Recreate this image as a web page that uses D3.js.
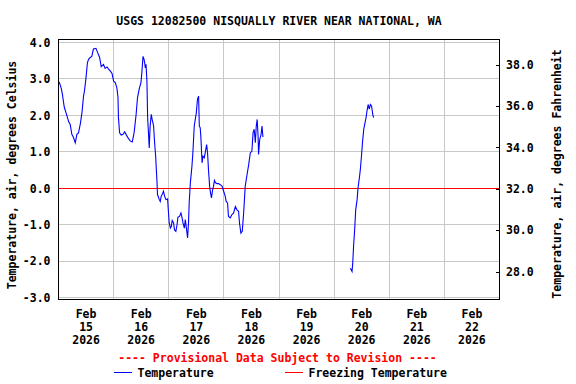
<!DOCTYPE html>
<html><head><meta charset="utf-8">
<script src="https://cdn.jsdelivr.net/npm/d3@7"></script>
<style>
body{margin:0;background:#fff}
svg text{font-family:"DejaVu Sans Mono","Liberation Mono",monospace;font-weight:bold;font-size:11.5px;fill:#000}
</style>
</head><body>
<svg id="chart" width="576" height="384"></svg>
<script>
// ---- data ----
const chartTitle = "USGS 12082500 NISQUALLY RIVER NEAR NATIONAL, WA";
const leftAxisTitle = "Temperature, air, degrees Celsius";
const rightAxisTitle = "Temperature, air, degrees Fahrenheit";
const provisionalNote = "---- Provisional Data Subject to Revision ----";
const legendLabels = ["Temperature", "Freezing Temperature"];
const seriesStart = [2026, 1, 15]; // Feb 15 2026 00:00, offsets in hours below

const seg1Hours = [0.3,1.2,1.7,2.5,3.4,4.4,5.1,5.8,6.5,7.3,8.0,8.7,9.5,10.2,10.9,11.3,11.9,12.6,13.1,13.8,14.5,15.2,16.3,17.0,17.9,18.6,19.6,20.3,21.1,21.8,22.5,23.3,24.0,24.7,25.4,25.9,26.1,26.6,27.3,28.1,28.8,29.4,30.2,31.2,32.1,32.7,33.0,33.8,34.4,35.2,35.9,36.3,36.8,37.2,37.5,37.8,38.1,38.5,38.8,39.2,39.5,39.9,40.4,40.8,41.1,41.4,41.8,42.3,42.6,42.9,43.1,43.9,44.3,44.7,45.3,45.7,46.2,46.8,47.5,47.8,48.2,48.7,49.1,49.5,50.1,50.5,51.1,51.6,52.0,52.7,53.3,53.8,54.2,54.8,55.2,55.6,56.2,56.6,56.9,57.4,58.1,58.5,59.1,60.0,60.5,61.0,61.3,61.7,62.0,62.5,62.9,63.5,64.0,64.5,64.9,65.3,65.8,66.2,66.6,67.1,67.5,67.9,68.4,69.0,69.7,70.4,71.2,71.9,72.6,73.0,73.6,74.0,74.8,75.5,76.2,77.0,77.7,78.4,78.8,79.4,80.0,80.6,81.3,82.1,82.8,83.5,84.2,84.7,85.2,85.7,86.1,86.5,86.9,87.1,87.6,88.2,88.6,89.0];
const seg1TempC = [2.92,2.74,2.58,2.23,2.05,1.83,1.75,1.48,1.40,1.25,1.48,1.52,1.77,2.07,2.53,2.67,2.99,3.45,3.54,3.59,3.62,3.82,3.84,3.73,3.59,3.34,3.40,3.29,3.33,3.27,3.22,3.15,2.94,2.90,2.76,2.49,1.94,1.52,1.46,1.48,1.55,1.48,1.39,1.30,1.27,1.45,1.57,2.03,2.49,2.74,2.90,3.18,3.62,3.55,3.45,3.30,3.40,2.94,1.95,1.48,1.11,1.71,2.03,1.88,1.80,1.71,1.29,0.88,0.51,0.15,-0.17,-0.31,-0.36,-0.22,-0.15,-0.08,-0.22,-0.31,-0.29,-0.59,-0.95,-1.09,-1.05,-0.88,-0.95,-1.14,-1.18,-1.00,-0.79,-0.77,-0.68,-0.81,-0.95,-1.09,-0.86,-1.05,-1.36,-0.95,-0.40,0.15,0.61,0.97,1.71,2.07,2.44,2.53,1.71,1.66,1.39,0.70,0.88,0.84,1.02,1.20,0.97,0.51,0.06,-0.13,-0.26,-0.04,0.06,0.22,0.15,0.13,0.13,0.10,0.06,-0.08,-0.22,-0.36,-0.40,-0.77,-0.81,-0.72,-0.68,-0.50,-0.59,-0.63,-0.95,-1.23,-1.18,-0.68,0.06,0.38,0.65,0.97,1.02,1.52,1.62,1.25,1.71,1.89,1.43,0.93,1.34,1.48,1.71,1.41];
const seg2Hours = [127.1,127.8,128.1,128.5,128.9,129.4,130.0,130.4,131.0,131.4,131.9,132.4,132.9,133.3,133.9,134.3,134.8,135.3,135.8,136.3,136.8,137.2];
const seg2TempC = [-2.19,-2.28,-2.05,-1.55,-1.18,-0.59,-0.31,0.01,0.29,0.51,0.88,1.29,1.62,1.75,1.94,2.12,2.30,2.17,2.30,2.26,2.03,1.94];

const celsiusTicks = [-3, -2, -1, 0, 1, 2, 3, 4];
const fahrenheitTicks = [28, 30, 32, 34, 36, 38];
const dayLabels = ["2026-02-15","2026-02-16","2026-02-17","2026-02-18","2026-02-19","2026-02-20","2026-02-21","2026-02-22"];
const freezingC = 0;

// ---- layout ----
const plot = {left: 58.5, right: 499.5, top: 39.5, bottom: 299.5};
const svg = d3.select("#chart");

const t0 = new Date(seriesStart[0], seriesStart[1], seriesStart[2]);
const hourToDate = h => new Date(t0.getTime() + h * 3600e3);
const parseDay = d3.timeParse("%Y-%m-%d");
const days = dayLabels.map(parseDay);

const x = d3.scaleTime()
  .domain([days[0], d3.timeDay.offset(days[days.length - 1], 1)])
  .range([plot.left, plot.right]);
const yC = d3.scaleLinear().domain([-3, 4]).range([297.7, 42.5]);
const yF = d3.scaleLinear().domain([28, 38]).range([271.6, 64.6]);

const seg1 = seg1Hours.map((h, i) => ({t: hourToDate(h), v: seg1TempC[i]}));
const seg2 = seg2Hours.map((h, i) => ({t: hourToDate(h), v: seg2TempC[i]}));

// grid
const grid = svg.append("g").attr("stroke", "#c8c8c8").attr("stroke-width", 1).attr("shape-rendering", "crispEdges");
grid.selectAll("line.h").data(celsiusTicks).join("line")
  .attr("x1", plot.left).attr("x2", plot.right)
  .attr("y1", d => yC(d)).attr("y2", d => yC(d));
grid.selectAll("line.v").data(days.slice(1)).join("line")
  .attr("x1", d => x(d)).attr("x2", d => x(d))
  .attr("y1", plot.top).attr("y2", plot.bottom);

// freezing line
svg.append("line")
  .attr("x1", plot.left).attr("x2", plot.right)
  .attr("y1", yC(freezingC)).attr("y2", yC(freezingC))
  .attr("stroke", "#ff0000").attr("stroke-width", 1).attr("shape-rendering", "crispEdges");

// temperature line
const line = d3.line().x(d => x(d.t)).y(d => yC(d.v));
[seg1, seg2].forEach(s => {
  svg.append("path").datum(s).attr("d", line)
    .attr("fill", "none").attr("stroke", "#0000ff").attr("stroke-width", 1.1)
    .attr("stroke-linejoin", "miter");
});

// frame
svg.append("rect")
  .attr("x", plot.left).attr("y", plot.top)
  .attr("width", plot.right - plot.left).attr("height", plot.bottom - plot.top)
  .attr("fill", "none").attr("stroke", "#000").attr("stroke-width", 1).attr("shape-rendering", "crispEdges");

// left axis
const fmt = d => d.toFixed(1);
const gl = svg.append("g").attr("transform", `translate(${plot.left},0)`)
  .call(d3.axisLeft(yC).tickValues(celsiusTicks).tickFormat(fmt).tickSize(0).tickPadding(8));
gl.select(".domain").remove();

// right axis
const gr = svg.append("g").attr("transform", `translate(${plot.right},0)`)
  .call(d3.axisRight(yF).tickValues(fahrenheitTicks).tickFormat(fmt).tickSizeInner(-4).tickSizeOuter(0).tickPadding(6.5));
gr.select(".domain").remove();
gr.selectAll(".tick line").attr("stroke", "#000").attr("shape-rendering", "crispEdges");

[gl, gr].forEach(g => g.attr("font-family", null).attr("font-size", null));

// x labels (centered at noon)
const fmts = [d3.timeFormat("%b"), d3.timeFormat("%d"), d3.timeFormat("%Y")];
const xl = svg.append("g").attr("text-anchor", "middle");
days.forEach(d => {
  const cx = x(d3.timeHour.offset(d, 12));
  fmts.forEach((f, i) => {
    xl.append("text").attr("x", cx).attr("y", 314 + i * 13).attr("dy", "0.35em").text(f(d));
  });
});

// titles
svg.append("text").attr("x", (plot.left + plot.right) / 2).attr("y", 20.5).attr("dy", "0.35em")
  .attr("text-anchor", "middle").text(chartTitle);
svg.append("text").attr("transform", "translate(12,175) rotate(-90)").attr("dy", "0.35em")
  .attr("text-anchor", "middle").text(leftAxisTitle);
svg.append("text").attr("transform", "translate(556.5,174) rotate(-90)").attr("dy", "0.35em")
  .attr("text-anchor", "middle").text(rightAxisTitle);

// provisional note
svg.append("text").attr("x", 277.5).attr("y", 358.3).attr("dy", "0.35em")
  .attr("text-anchor", "middle").style("fill", "#ff0000").text(provisionalNote);

// legend
const legend = [
  {x: 114, color: "#0000ff", label: legendLabels[0]},
  {x: 285, color: "#ff0000", label: legendLabels[1]}
];
legend.forEach(l => {
  svg.append("line").attr("x1", l.x).attr("x2", l.x + 18).attr("y1", 372.5).attr("y2", 372.5)
    .attr("stroke", l.color).attr("stroke-width", 1);
  svg.append("text").attr("x", l.x + 23.5).attr("y", 373.3).attr("dy", "0.35em").text(l.label);
});
</script>
</body></html>
